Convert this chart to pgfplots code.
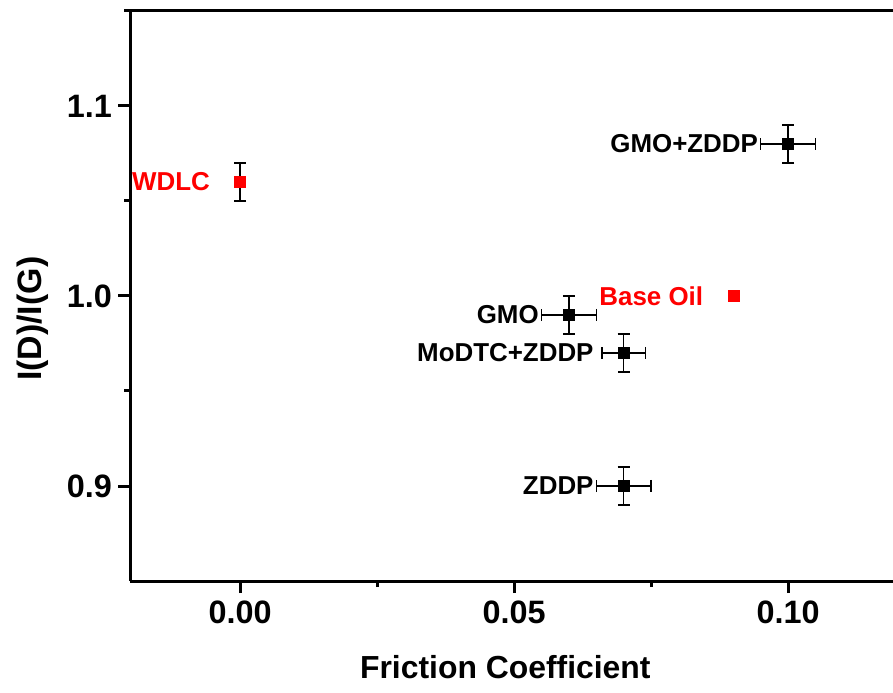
\documentclass[border=0pt]{standalone}
\usepackage{fontspec}
\setmainfont{Liberation Sans}
\usepackage{pgfplots}
\usepackage{pgfplotstable}
\pgfplotsset{compat=1.18}
\usetikzlibrary{calc}

\pgfplotstableread{
x y ex ey
0.10 1.08 0.005 0.01
0.06 0.99 0.005 0.01
0.07 0.97 0.004 0.01
0.07 0.90 0.005 0.01
}\blackdata
\pgfplotstableread{
x y ey
0.00 1.06 0.01
}\wdlcdata
\pgfplotstableread{
x y
0.09 1.00
}\baseoildata

\begin{document}
\begin{tikzpicture}
\begin{axis}[
 scale only axis, width=767.2bp, height=570bp,
 xmin=-0.02, xmax=0.12, ymin=0.85, ymax=1.15,
 axis line style={draw=none},
 xtick={0,0.05,0.1}, minor xtick={0.025,0.075},
 ytick={0.9,1.0,1.1}, minor ytick={0.95,1.05},
 xtick pos=bottom, ytick pos=left,
 tick align=outside,
 major tick length=12bp, minor tick length=6bp,
 tick style={black, line width=3bp},
 x tick label style={/pgf/number format/.cd, fixed, fixed zerofill, precision=2, /tikz/.cd, yshift=-4bp},
 y tick label style={/pgf/number format/.cd, fixed, fixed zerofill, precision=1, /tikz/.cd, xshift=-3bp},
 /pgf/number format/assume math mode=true,
 tick label style={font=\fontsize{32.5}{40}\selectfont\bfseries, black},
 clip=false,
]
\coordinate (bl) at (rel axis cs:0,0);
\draw[line width=3bp] (rel axis cs:0,0) -- (rel axis cs:0,1);
\draw[line width=3bp] ([xshift=-6bp]rel axis cs:0,1) -- (rel axis cs:1,1);
\draw[line width=3bp] (rel axis cs:0,0) -- (rel axis cs:1,0);

\addplot[only marks, mark=square*, mark size=5.5bp, black, mark options={fill=black, draw=black, line width=0.5bp},
 error bars/.cd, x dir=both, x explicit, y dir=both, y explicit,
 error bar style={line width=1.5bp, black},
 error mark options={rotate=90, mark size=6bp, line width=1.5bp, black}]
 table[x=x, y=y, x error=ex, y error=ey] {\blackdata};

\addplot[only marks, mark=square*, mark size=5.5bp, red, mark options={fill=red, draw=red, line width=0.5bp},
 error bars/.cd, y dir=both, y explicit,
 error bar style={line width=1.5bp, black},
 error mark options={rotate=90, mark size=6bp, line width=1.5bp, black}]
 table[x=x, y=y, y error=ey] {\wdlcdata};

\addplot[only marks, mark=square*, mark size=5.5bp, red, mark options={fill=red, draw=red, line width=0.5bp}]
 table[x=x, y=y] {\baseoildata};

\begin{scope}[every node/.style={anchor=east, inner sep=0pt, font=\fontsize{26}{30}\selectfont\bfseries}]
\node[red] at ([xshift=-30bp]axis cs:0,1.06) {WDLC};
\node[red] at ([xshift=-30bp]axis cs:0.09,1.00) {Base Oil};
\node at ([xshift=-30bp]axis cs:0.10,1.08) {GMO+ZDDP};
\node at ([xshift=-30bp]axis cs:0.06,0.99) {GMO};
\node at ([xshift=-30bp]axis cs:0.07,0.97) {MoDTC+ZDDP};
\node at ([xshift=-30bp]axis cs:0.07,0.90) {ZDDP};
\end{scope}

\node[anchor=base, font=\fontsize{32}{40}\selectfont\bfseries] at ([yshift=-97bp]axis cs:0.0484,0.85) {Friction Coefficient};
\node[anchor=base, rotate=90, font=\fontsize{34}{40}\selectfont\bfseries] at ([xshift=-88.5bp]axis cs:-0.02,0.988) {I(D)/I(G)};
\end{axis}
\pgfresetboundingbox
\path[use as bounding box] ($(bl)+(-130.5bp,-112bp)$) rectangle ($(bl)+(762.5bp,581bp)$);
\end{tikzpicture}
\end{document}
